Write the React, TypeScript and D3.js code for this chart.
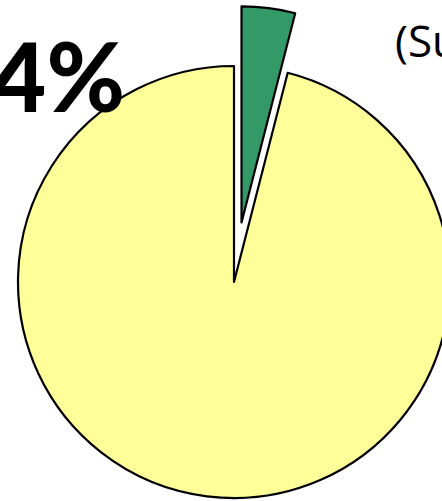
import * as d3 from "d3";
import { useEffect, useRef } from "react";

const categories = ["Other", "Highlighted"];
const values = [96, 4];
const colors = ["#FFFF99", "#339966"];
const bigLabel = "4%";
const titleFragment = "(Su";

type Slice = { name: string; value: number; color: string };

export default function App() {
  const ref = useRef<SVGSVGElement | null>(null);

  useEffect(() => {
    const el = ref.current;
    if (!el) return;
    const svg = d3.select(el);
    svg.selectAll("*").remove();

    const W = 442;
    const H = 501;
    const cx = 234;
    const cy = 282;
    const r = 216;
    const explode = 60;

    const data: Slice[] = categories.map((name, i) => ({
      name,
      value: values[i],
      color: colors[i],
    }));

    // highlighted slice starts at 12 o'clock, rest follows clockwise
    const ordered = [data[1], data[0]];
    const pie = d3
      .pie<Slice>()
      .sort(null)
      .value((d) => d.value);
    const arcs = pie(ordered);
    const arc = d3.arc<d3.PieArcDatum<Slice>>().innerRadius(0).outerRadius(r);

    svg.attr("viewBox", `0 0 ${W} ${H}`).attr("width", W).attr("height", H);

    const g = svg.append("g").attr("transform", `translate(${cx},${cy})`);

    g.selectAll("path")
      .data(arcs)
      .join("path")
      .attr("transform", (d) => {
        if (d.data.name !== "Highlighted") return null;
        const mid = (d.startAngle + d.endAngle) / 2;
        return `translate(${Math.sin(mid) * explode},${-Math.cos(mid) * explode})`;
      })
      .attr("d", arc)
      .attr("fill", (d) => d.data.color)
      .attr("stroke", "#000")
      .attr("stroke-width", 2.2)
      .attr("stroke-linejoin", "round");

    svg
      .append("text")
      .attr("x", 125)
      .attr("y", 112)
      .attr("text-anchor", "end")
      .attr("font-family", "Lato, 'Open Sans', sans-serif")
      .attr("font-weight", 900)
      .attr("font-size", 95)
      .attr("fill", "#000")
      .text(bigLabel);

    svg
      .append("text")
      .attr("x", 395)
      .attr("y", 57)
      .attr("font-family", "'Open Sans', Lato, sans-serif")
      .attr("font-size", 44)
      .attr("fill", "#000")
      .text(titleFragment);
  }, []);

  return (
    <svg
      ref={ref}
      style={{ position: "absolute", left: 0, top: 0, display: "block", background: "#fff" }}
    />
  );
}
